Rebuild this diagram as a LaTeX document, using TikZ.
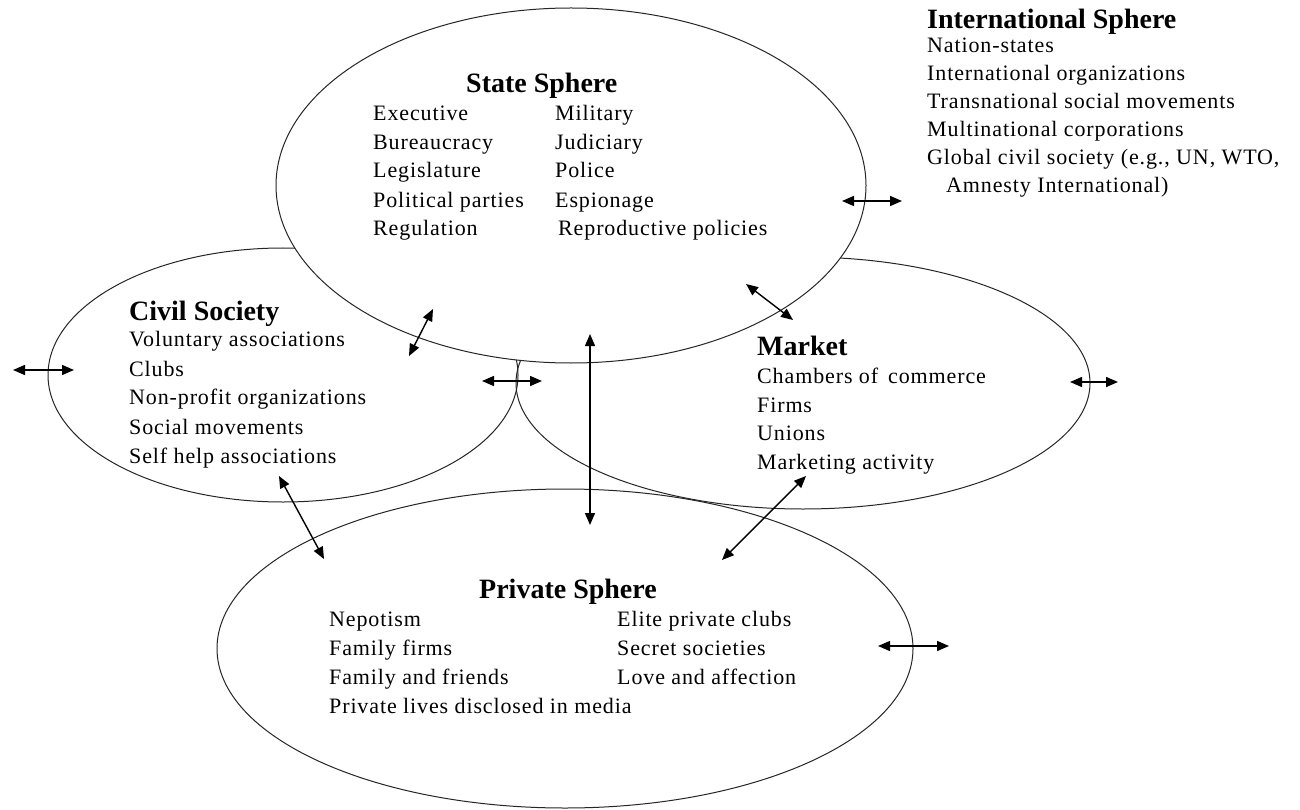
\documentclass[tikz,border=0pt]{standalone}
\usepackage{fontspec}
\setmainfont{Liberation Serif}
\newfontfamily\bodyfont[LetterSpace=4]{Liberation Serif}
\usetikzlibrary{arrows.meta,shapes.geometric}
\begin{document}
\begin{tikzpicture}[x=1pt,y=-1pt,
  sphere/.style={draw=black!85, line width=1pt, ellipse, inner sep=0pt},
  lbl/.style={anchor=west, inner sep=0pt, font=\bodyfont\fontsize{22}{26}\selectfont, text height=16pt, text depth=4pt},
  ttl/.style={anchor=west, inner sep=0pt, font=\fontsize{28}{30}\selectfont\bfseries, text height=21pt, text depth=5pt},
  link/.style={line width=1.4pt, {Triangle[length=12pt,width=10pt]}-{Triangle[length=12pt,width=10pt]}}]
\fill[white] (0,0) rectangle (1300,810);
\useasboundingbox (0,0) rectangle (1300,810);

% spheres
\node[sphere, minimum width=470pt, minimum height=254pt] (civ) at (283,375) {};
\node[sphere, minimum width=574pt, minimum height=252pt] (mkt) at (803,383) {};
\node[sphere, minimum width=696pt, minimum height=319pt] (prv) at (565,648.5) {};
\node[sphere, fill=white, minimum width=590pt, minimum height=355pt] (sta) at (571,185.5) {};

% International sphere
\node[ttl] (intT) at (927,21) {International Sphere};
\node[lbl] (int1) at (927,47) {Nation-states};
\node[lbl] (int2) at (927,75) {International organizations};
\node[lbl] (int3) at (927,103) {Transnational social movements};
\node[lbl] (int4) at (927,131) {Multinational corporations};
\node[lbl] (int5) at (927,159) {Global civil society (e.g., UN, WTO,};
\node[lbl] (int6) at (946,187) {Amnesty International)};

% State sphere
\node[ttl] (staT) at (466,85) {State Sphere};
\node[lbl] (sa1) at (373,115) {Executive};
\node[lbl] (sa2) at (373,144) {Bureaucracy};
\node[lbl] (sa3) at (373,172) {Legislature};
\node[lbl] (sa4) at (373,202) {Political parties};
\node[lbl] (sa5) at (373,230) {Regulation};
\node[lbl] (sb1) at (555,115) {Military};
\node[lbl] (sb2) at (555,144) {Judiciary};
\node[lbl] (sb3) at (555,172) {Police};
\node[lbl] (sb4) at (555,202) {Espionage};
\node[lbl] (sb5) at (558,230) {Reproductive policies};

% Civil society
\node[ttl] (civT) at (129,312) {Civil Society};
\node[lbl] (c1) at (129,340) {Voluntary associations};
\node[lbl] (c2) at (129,370) {Clubs};
\node[lbl] (c3) at (129,398) {Non-profit organizations};
\node[lbl] (c4) at (129,428) {Social movements};
\node[lbl] (c5) at (129,457) {Self help associations};

% Market
\node[ttl] (mktT) at (757,347) {Market};
\node[lbl] (m1) at (757,377) {Chambers of\, commerce};
\node[lbl] (m2) at (757,406) {Firms};
\node[lbl] (m3) at (757,434) {Unions};
\node[lbl] (m4) at (757,463) {Marketing activity};

% Private sphere
\node[ttl] (prvT) at (479,590) {Private Sphere};
\node[lbl] (p1) at (329,620) {Nepotism};
\node[lbl] (p2) at (329,649) {Family firms};
\node[lbl] (p3) at (329,678) {Family and friends};
\node[lbl] (p4) at (329,707) {Private lives disclosed in media};
\node[lbl] (q1) at (617,620) {Elite private clubs};
\node[lbl] (q2) at (617,649) {Secret societies};
\node[lbl] (q3) at (617,678) {Love and affection};

% arrow end points
\coordinate (a1s) at (13,370);   \coordinate (a1e) at (74,370);
\coordinate (a2s) at (409,356);  \coordinate (a2e) at (433,309);
\coordinate (a3s) at (482,381);  \coordinate (a3e) at (542,381);
\coordinate (a4s) at (590,334);  \coordinate (a4e) at (590,525);
\coordinate (a5s) at (746,284);  \coordinate (a5e) at (793,320);
\coordinate (a6s) at (842,201);  \coordinate (a6e) at (902,201);
\coordinate (a7s) at (1070,382); \coordinate (a7e) at (1118,382);
\coordinate (a8s) at (279,476);  \coordinate (a8e) at (324,559);
\coordinate (a9s) at (806,476);  \coordinate (a9e) at (722,560);
\coordinate (a10s) at (878,646); \coordinate (a10e) at (949,646);

\draw[link] (a1s) -- (a1e);
\draw[link] (a2s) -- (a2e);
\draw[link] (a3s) -- (a3e);
\draw[link] (a4s) -- (a4e);
\draw[link] (a5s) -- (a5e);
\draw[link] (a6s) -- (a6e);
\draw[link] (a7s) -- (a7e);
\draw[link] (a8s) -- (a8e);
\draw[link] (a9s) -- (a9e);
\draw[link] (a10s) -- (a10e);
\end{tikzpicture}
\end{document}
